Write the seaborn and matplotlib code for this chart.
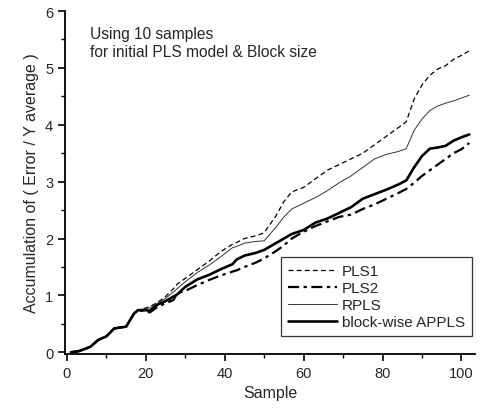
import numpy as np
import pandas as pd
import matplotlib
matplotlib.use("Agg")
import matplotlib.pyplot as plt
import seaborn as sns
from matplotlib.ticker import MultipleLocator

# sample positions
sample = [1, 3, 5, 6, 8, 10, 12, 15, 17, 18, 20, 21, 23, 25, 27, 28, 30, 33, 36, 39,
          42, 43, 45, 48, 50, 53, 55, 57, 60, 63, 66, 69, 72, 75, 78, 81, 84, 86,
          88, 90, 92, 94, 96, 98, 100, 102]

pls1 = [0.0, 0.02, 0.07, 0.1, 0.22, 0.28, 0.42, 0.45, 0.68, 0.74, 0.78, 0.8, 0.88, 0.98,
        1.12, 1.2, 1.3, 1.45, 1.6, 1.77, 1.9, 1.93, 2.0, 2.05, 2.1, 2.4, 2.65, 2.82, 2.9,
        3.05, 3.2, 3.3, 3.4, 3.5, 3.65, 3.8, 3.95, 4.05, 4.45, 4.7, 4.87, 4.98, 5.04,
        5.15, 5.22, 5.3]
pls2 = [0.0, 0.02, 0.07, 0.1, 0.22, 0.28, 0.42, 0.45, 0.68, 0.74, 0.72, 0.70, 0.80, 0.86,
        0.92, 1.04, 1.08, 1.18, 1.27, 1.35, 1.42, 1.44, 1.5, 1.58, 1.65, 1.78, 1.88, 2.0,
        2.12, 2.22, 2.3, 2.38, 2.42, 2.52, 2.6, 2.7, 2.8, 2.87, 2.98, 3.1, 3.2, 3.3,
        3.4, 3.5, 3.57, 3.68]
rpls = [0.0, 0.02, 0.07, 0.1, 0.22, 0.28, 0.42, 0.45, 0.68, 0.74, 0.77, 0.78, 0.86, 0.95,
        1.06, 1.12, 1.24, 1.4, 1.53, 1.68, 1.84, 1.86, 1.92, 1.95, 1.96, 2.2, 2.38, 2.52,
        2.62, 2.72, 2.84, 2.98, 3.1, 3.25, 3.4, 3.48, 3.53, 3.58, 3.9, 4.1, 4.25, 4.33,
        4.38, 4.42, 4.47, 4.52]
applS = [0.0, 0.02, 0.07, 0.1, 0.22, 0.28, 0.42, 0.45, 0.68, 0.74, 0.74, 0.73, 0.84, 0.9,
         0.98, 1.02, 1.15, 1.28, 1.36, 1.46, 1.55, 1.63, 1.7, 1.75, 1.8, 1.92, 2.0, 2.08,
         2.15, 2.28, 2.35, 2.45, 2.55, 2.7, 2.78, 2.86, 2.95, 3.02, 3.25, 3.45, 3.58, 3.6,
         3.63, 3.72, 3.78, 3.83]

labels = ["PLS1", "PLS2", "RPLS", "block-wise APPLS"]

df = pd.DataFrame({"Sample": sample, "PLS1": pls1, "PLS2": pls2,
                   "RPLS": rpls, "block-wise APPLS": applS})
long_df = df.melt(id_vars="Sample", var_name="method", value_name="acc")

sns.set_style("ticks")
plt.rcParams["font.family"] = ["Liberation Sans", "DejaVu Sans"]

fig = plt.figure(figsize=(4.81, 4.14), dpi=100)
ax = fig.add_axes([0.135, 0.1425, 0.853, 0.8285])

styles = {
    "PLS1": dict(ls=(0, (4, 2.5)), lw=0.9, color="black"),
    "PLS2": dict(ls=(0, (5, 2, 1.5, 2)), lw=1.6, color="black"),
    "RPLS": dict(ls="-", lw=0.7, color="#333333"),
    "block-wise APPLS": dict(ls="-", lw=1.9, color="black"),
}
for name in labels:
    sub = long_df[long_df["method"] == name]
    st = styles[name]
    sns.lineplot(data=sub, x="Sample", y="acc", ax=ax, label=name,
                 color=st["color"], linewidth=st["lw"], linestyle=st["ls"])

ax.set_xlim(-0.5, 103.5)
ax.set_ylim(-0.03, 6)
ax.xaxis.set_major_locator(MultipleLocator(20))
ax.xaxis.set_minor_locator(MultipleLocator(10))
ax.yaxis.set_major_locator(MultipleLocator(1))
ax.yaxis.set_minor_locator(MultipleLocator(0.5))
ax.tick_params(which="major", direction="out", length=5, width=1.2, labelsize=10.5, color="black")
ax.tick_params(which="minor", direction="out", length=3, width=1.0, color="black")
sns.despine(ax=ax)
for sp in ["left", "bottom"]:
    ax.spines[sp].set_linewidth(1.3)
    ax.spines[sp].set_color("black")

ax.set_xlabel("Sample", fontsize=11.5)
ax.set_ylabel("Accumulation of ( Error / Y average )", fontsize=11.5)

ax.text(0.06, 0.955, "Using 10 samples\nfor initial PLS model & Block size",
        transform=ax.transAxes, fontsize=11.2, va="top", ha="left", linespacing=1.2)

leg = ax.legend(loc="lower right", frameon=True, fancybox=False, fontsize=11,
                handlelength=3.2, handletextpad=0.3, borderpad=0.45, labelspacing=0.2,
                bbox_to_anchor=(1.01, 0.03))
leg.get_frame().set_edgecolor("black")
leg.get_frame().set_linewidth(0.9)

fig.savefig("out.png", dpi=100)
